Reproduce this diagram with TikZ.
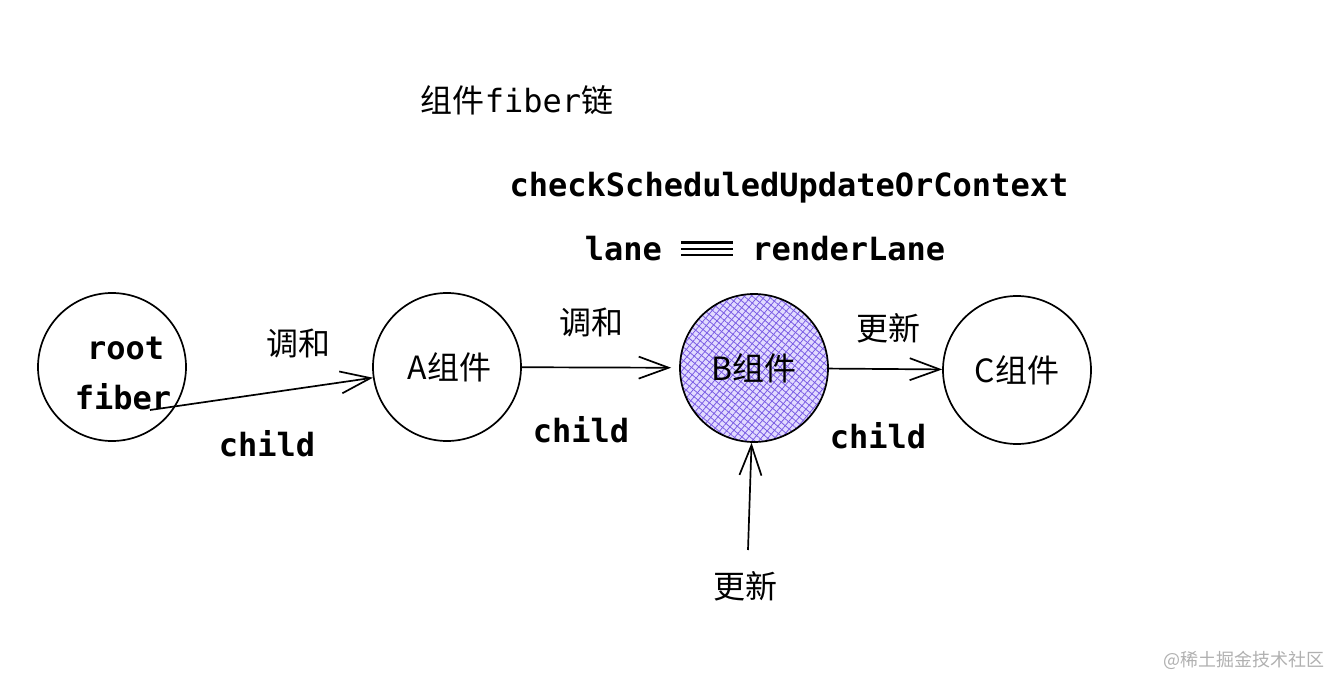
\documentclass[tikz,border=0pt]{standalone}
\usepackage{fontspec}
\setmonofont{DejaVu Sans Mono}
\newfontfamily\cjk{Noto Sans CJK SC}
\usetikzlibrary{arrows.meta,patterns.meta}

\definecolor{hatchfill}{RGB}{226,219,255}
\definecolor{hatchline}{RGB}{122,92,228}
\definecolor{markgray}{RGB}{176,176,176}

% three bars of the === ligature
\newcommand\tribar{\raisebox{2.3pt}{\vbox{\hrule width 26pt height 1.2pt \vskip 2pt
  \hrule width 26pt height 1.2pt \vskip 2pt \hrule width 26pt height 1.2pt}}}

\tikzset{
  fibernode/.style={circle, draw, line width=0.85pt, minimum size=74pt, inner sep=0pt,
    font=\cjk\fontsize{16}{18}\selectfont},
  hatched/.style={preaction={fill=hatchfill},
    preaction={pattern={Lines[angle=50,distance=2.6pt,line width=0.4pt]}, pattern color=hatchline},
    preaction={pattern={Lines[angle=-40,distance=2.6pt,line width=0.4pt]}, pattern color=hatchline}},
  codetext/.style={font=\ttfamily\bfseries\fontsize{16}{25}\selectfont},
  cntext/.style={font=\cjk\fontsize{16}{18}\selectfont},
  link/.style={-{Straight Barb[length=15pt,width=11pt]}, line width=0.85pt},
}

\begin{document}
\begin{tikzpicture}[x=1pt, y=-1pt]
        \useasboundingbox (0,0) rectangle (0.5* 1344, 0.5* 690);

        \node[codetext] at (0.5* 517, 0.5* 100)  (title)   {\mdseries{\cjk 组件}fiber{\cjk 链}};
        \node[codetext] at (0.5* 789, 0.5* 188)  (check)   {checkScheduledUpdateOrContext};
        \node[codetext] at (0.5* 765, 0.5* 249)  (lane)    {lane \tribar{} renderLane};

        \node[fibernode] at (0.5* 112, 0.5* 367)  (root)  {};
        \node[codetext, align=center] at (0.5* 123, 0.5* 373)  (rootname)  {\,root\\fiber};
        \node[fibernode] at (0.5* 447, 0.5* 367)  (A)  {\,A组件};
        \node[fibernode, hatched] at (0.5* 754, 0.5* 368)  (B)  {B组件};
        \node[fibernode] at (0.5* 1017, 0.5* 370)  (C)  {C组件};

        \coordinate (rootout) at (0.5* 150, 0.5* 410);
        \coordinate (update) at (0.5* 748, 0.5* 550);

        \draw[link]  (rootout) -- (A);
        \draw[link, shorten >=4pt]  (A) -- (B);
        \draw[link]  (B) -- (C);
        \draw[link]  (update) -- (B);

        \node[cntext]   at (0.5* 298, 0.5* 343)  (tune1)   {调和};
        \node[codetext] at (0.5* 267, 0.5* 444)  (child1)  {child};
        \node[cntext]   at (0.5* 591, 0.5* 322)  (tune2)   {调和};
        \node[codetext] at (0.5* 581, 0.5* 430)  (child2)  {child};
        \node[cntext]   at (0.5* 888, 0.5* 328)  (new1)    {更新};
        \node[codetext] at (0.5* 878, 0.5* 436)  (child3)  {child};
        \node[cntext]   at (0.5* 745, 0.5* 586)  (new2)    {更新};

        \node[font=\cjk\fontsize{9}{11}\selectfont, text=markgray] at (0.5* 1244, 0.5* 660)  (mark)  {@稀土掘金技术社区};
      \end{tikzpicture}
\end{document}
